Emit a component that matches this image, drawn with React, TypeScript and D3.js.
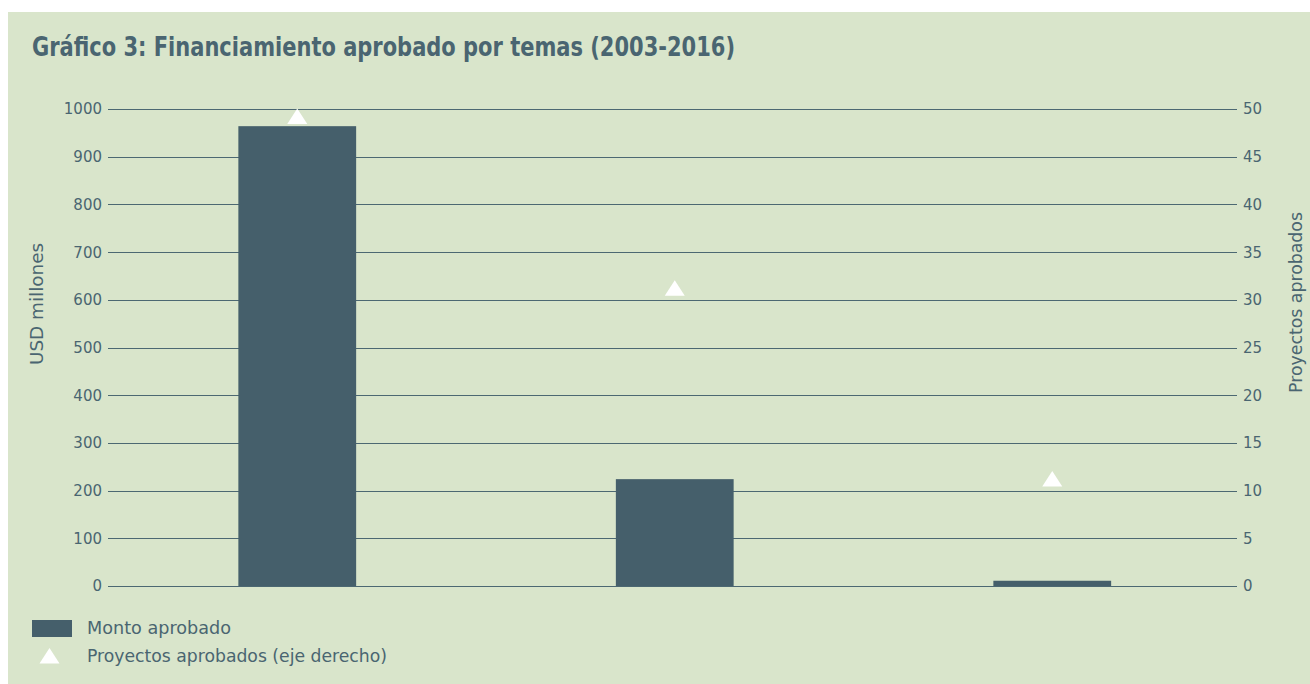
import React from "react";
import * as d3 from "d3";

const categories = ["Tema 1", "Tema 2", "Tema 3"];
const montoAprobado = [964, 224, 11];
const proyectosAprobados = [49, 31, 11];
const leftTicks = [0, 100, 200, 300, 400, 500, 600, 700, 800, 900, 1000];
const rightTicks = [0, 5, 10, 15, 20, 25, 30, 35, 40, 45, 50];
const titleText = "Gráfico 3: Financiamiento aprobado por temas (2003-2016)";
const leftAxisTitle = "USD millones";
const rightAxisTitle = "Proyectos aprobados";
const legendLabels = ["Monto aprobado", "Proyectos aprobados (eje derecho)"];

const W = 1310;
const H = 684;
const BG = "#d9e5cb";
const BAR = "#455f6b";
const TEXT = "#4a6571";
const GRID = "#4c6872";

const tri = (cx: number, cy: number) => {
  const p = d3.path();
  p.moveTo(cx, cy - 10);
  p.lineTo(cx + 10, cy + 5.5);
  p.lineTo(cx - 10, cy + 5.5);
  p.closePath();
  return p.toString();
};

export default function App() {
  const x = d3
    .scaleBand<string>()
    .domain(categories)
    .range([108.5, 1241])
    .paddingInner(0.688)
    .paddingOuter(0.344);
  const yL = d3.scaleLinear().domain([0, 1000]).range([586, 109]);
  const yR = d3.scaleLinear().domain([0, 50]).range([586, 109]);

  const narrow = '"Liberation Sans Narrow", "DejaVu Sans Condensed", sans-serif';
  const sans = '"DejaVu Sans", sans-serif';

  return (
    <svg
      width={W}
      height={H}
      style={{ position: "absolute", left: 0, top: 0 }}
    >
      <rect x={8} y={12} width={W - 8} height={H - 12} fill={BG} />
      <text
        x={32}
        y={56}
        fontFamily={narrow}
        fontWeight="bold"
        fontSize={26}
        fill={TEXT}
        textLength={703}
        lengthAdjust="spacingAndGlyphs"
      >
        {titleText}
      </text>

      {leftTicks.map((t) => (
        <g key={"g" + t}>
          <line
            x1={108}
            x2={1237}
            y1={Math.round(yL(t)) + 0.5}
            y2={Math.round(yL(t)) + 0.5}
            stroke={GRID}
            strokeWidth={1}
          />
          <text
            x={102}
            y={yL(t)}
            dy="0.36em"
            textAnchor="end"
            fontFamily={sans}
            fontSize={15}
            fill={TEXT}
          >
            {t}
          </text>
        </g>
      ))}
      {rightTicks.map((t) => (
        <text
          key={"r" + t}
          x={1243}
          y={yR(t)}
          dy="0.36em"
          textAnchor="start"
          fontFamily={sans}
          fontSize={15}
          fill={TEXT}
        >
          {t}
        </text>
      ))}

      <text
        transform={`translate(43,304) rotate(-90)`}
        textAnchor="middle"
        fontFamily={sans}
        fontSize={17}
        fill={TEXT}
        textLength={122}
        lengthAdjust="spacingAndGlyphs"
      >
        {leftAxisTitle}
      </text>
      <text
        transform={`translate(1302,302.5) rotate(-90)`}
        textAnchor="middle"
        fontFamily={sans}
        fontSize={17}
        fill={TEXT}
        textLength={181}
        lengthAdjust="spacingAndGlyphs"
      >
        {rightAxisTitle}
      </text>

      {categories.map((c, i) => (
        <rect
          key={"b" + c}
          x={x(c)!}
          y={yL(montoAprobado[i])}
          width={x.bandwidth()}
          height={yL(0) - yL(montoAprobado[i])}
          fill={BAR}
        />
      ))}
      {categories.map((c, i) => (
        <path
          key={"t" + c}
          d={tri(x(c)! + x.bandwidth() / 2, yR(proyectosAprobados[i]))}
          fill="#ffffff"
        />
      ))}

      <rect x={32} y={620} width={40} height={17} fill={BAR} />
      <text x={87} y={634} fontFamily={narrow} fontWeight={500} fontSize={18} fill={TEXT} textLength={144} lengthAdjust="spacingAndGlyphs">
        {legendLabels[0]}
      </text>
      <path d={tri(49.5, 658)} fill="#ffffff" />
      <text x={87} y={662} fontFamily={narrow} fontWeight={500} fontSize={18} fill={TEXT} textLength={300} lengthAdjust="spacingAndGlyphs">
        {legendLabels[1]}
      </text>
    </svg>
  );
}
